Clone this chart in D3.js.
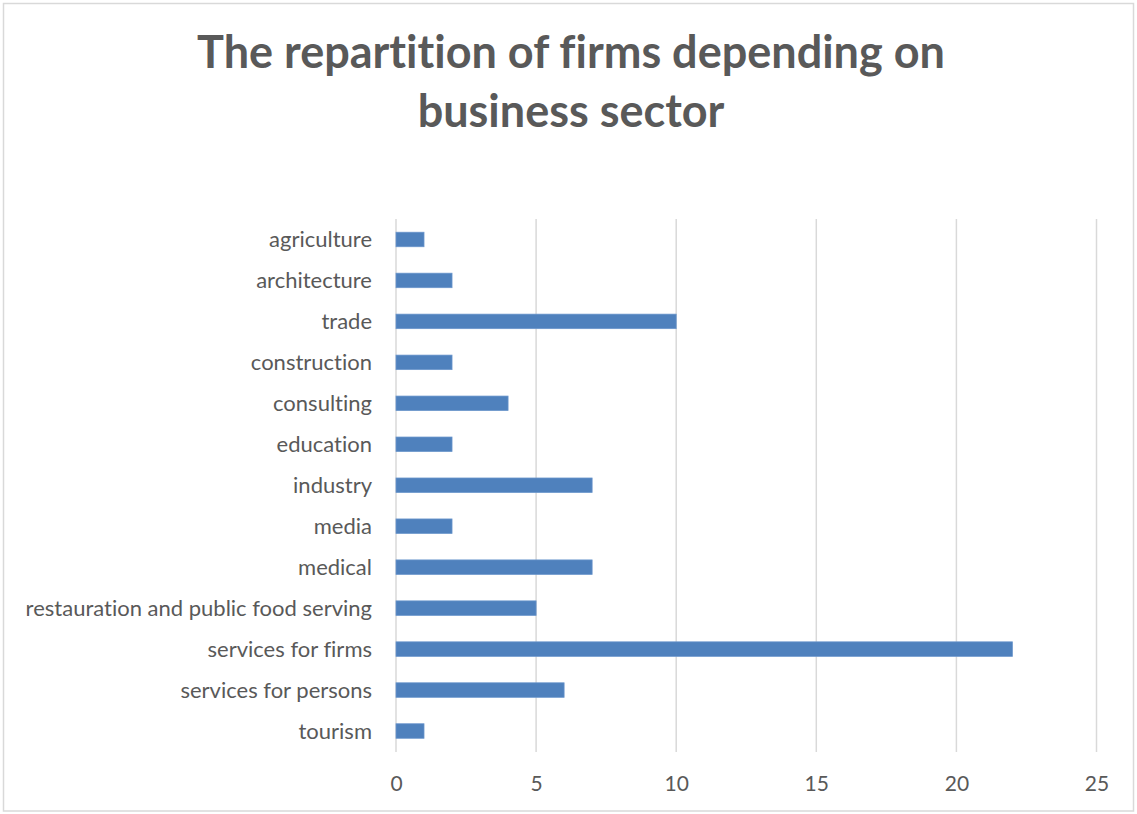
<!DOCTYPE html>
<html>
<head>
<meta charset="utf-8">
<script src="https://cdn.jsdelivr.net/npm/d3@7"></script>
<style>
  html, body { margin: 0; padding: 0; background: #fff; }
  svg { display: block; }
  text { font-variant-ligatures: none; }
</style>
</head>
<body>
<svg id="chart" width="1137" height="814"></svg>
<script>
// Business sectors, listed top to bottom
const sectors = [
  "agriculture",
  "architecture",
  "trade",
  "construction",
  "consulting",
  "education",
  "industry",
  "media",
  "medical",
  "restauration and public food serving",
  "services for firms",
  "services for persons",
  "tourism"
];
// Number of firms in each sector
const firmCounts = [1, 2, 10, 2, 4, 2, 7, 2, 7, 5, 22, 6, 1];
// Value axis ticks
const xTicks = [0, 5, 10, 15, 20, 25];
const titleLines = ["The repartition of firms depending on", "business sector"];

const W = 1137, H = 814;
const margin = { top: 219, right: 40, bottom: 62, left: 396 };
const textColor = "#595959";
const fontFamily = "Lato, 'Open Sans', sans-serif";

const svg = d3.select("#chart");

// Chart area outline
svg.append("rect")
  .attr("x", 3.5).attr("y", 3.5)
  .attr("width", W - 7).attr("height", H - 6.5)
  .attr("fill", "#fff")
  .attr("stroke", "#d9d9d9")
  .attr("stroke-width", 1.5);

const x = d3.scaleLinear()
  .domain([0, 25])
  .range([margin.left, 1096.5]);

const y = d3.scaleBand()
  .domain(sectors)
  .range([margin.top, H - margin.bottom - 0.5])
  .paddingInner(0.645)
  .paddingOuter(0.3225);

// Vertical gridlines
svg.append("g")
  .selectAll("line")
  .data(xTicks)
  .join("line")
  .attr("x1", d => x(d)).attr("x2", d => x(d))
  .attr("y1", margin.top).attr("y2", H - margin.bottom)
  .attr("stroke", "#d9d9d9")
  .attr("stroke-width", 1.5);

// Bars
svg.append("g")
  .selectAll("rect")
  .data(sectors.map((s, i) => ({ sector: s, value: firmCounts[i] })))
  .join("rect")
  .attr("x", x(0))
  .attr("y", d => y(d.sector))
  .attr("width", d => x(d.value) - x(0))
  .attr("height", y.bandwidth())
  .attr("fill", "#4f81bd")
  .attr("stroke", "#6b96cc")
  .attr("stroke-width", 0.75);

// Category axis
const yAxis = d3.axisLeft(y).tickSize(0).tickPadding(0);
const gy = svg.append("g")
  .attr("transform", `translate(${372},0)`)
  .call(yAxis);
gy.select(".domain").remove();
gy.selectAll("text")
  .attr("fill", textColor)
  .attr("font-family", fontFamily)
  .attr("font-size", 22)
  .attr("dy", "0.35em");

// Value axis
const xAxis = d3.axisBottom(x).tickValues(xTicks).tickSize(0).tickPadding(0);
const gx = svg.append("g")
  .attr("transform", `translate(0,${784})`)
  .call(xAxis);
gx.select(".domain").remove();
gx.selectAll("text")
  .attr("fill", textColor)
  .attr("font-family", fontFamily)
  .attr("font-size", 21)
  .attr("dy", "0.35em");

// Title
svg.append("g")
  .selectAll("text")
  .data(titleLines)
  .join("text")
  .attr("x", 571)
  .attr("y", (d, i) => 68 + i * 59)
  .attr("text-anchor", "middle")
  .attr("fill", textColor)
  .attr("font-family", fontFamily)
  .attr("font-weight", "bold")
  .attr("font-size", 45)
  .text(d => d);
</script>
</body>
</html>
